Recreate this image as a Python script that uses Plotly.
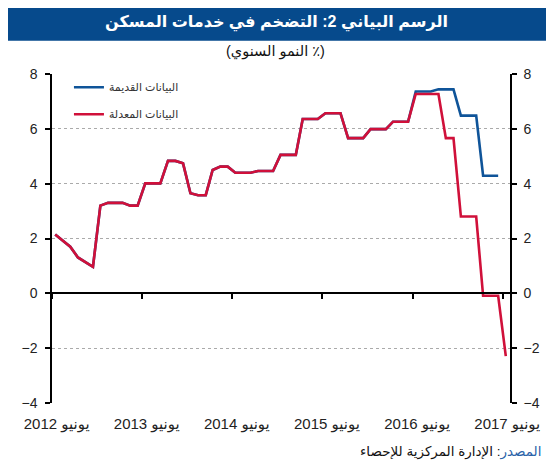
import pandas as pd
import plotly.graph_objects as go

# monthly data, June 2012 - June 2017 (annual % growth)
months = pd.date_range("2012-06-01", periods=61, freq="MS") + pd.Timedelta(days=13)

# June 2012 - May 2016: both series are the same
common = [2.15, 1.93, 1.70, 1.31, 1.14, 0.97,
          3.20, 3.30, 3.30, 3.30, 3.20, 3.20,
          4.01, 4.01, 4.01, 4.83, 4.83, 4.74,
          3.65, 3.58, 3.58, 4.50, 4.62, 4.62,
          4.40, 4.40, 4.40, 4.46, 4.46, 4.46,
          5.05, 5.05, 5.05, 6.36, 6.36, 6.36,
          6.57, 6.57, 6.57, 5.66, 5.66, 5.66,
          5.99, 5.99, 5.99, 6.26, 6.26, 6.26]
# June 2016 onwards
old_tail = [7.36, 7.36, 7.36, 7.44, 7.44, 7.44,
            6.48, 6.48, 6.48, 4.29, 4.29, 4.29]
revised_tail = [7.27, 7.27, 7.27, 7.27, 5.66, 5.66,
                2.80, 2.80, 2.80, -0.09, -0.09, -0.09, -2.29]

old_data = common + old_tail
revised_data = common + revised_tail

tick_years = [2012, 2013, 2014, 2015, 2016, 2017]
tick_vals = [f"{y}-06-01" for y in tick_years]
label_vals = [f"{y}-06-20" for y in tick_years]  # labels sit a little right of the ticks
tick_text = [f"{y} يونيو" for y in tick_years]

title_text = "الرسم البياني 2: التضخم في خدمات المسكن"
subtitle_text = "(النمو السنوي ٪)"
old_name = "البيانات القديمة"
revised_name = "البيانات المعدلة"

FONT = "Liberation Sans, Arial, DejaVu Sans, sans-serif"
BLUE = "#0f5499"
RED = "#d0103a"
x_range = ["2012-06-01", "2017-07-01"]

fig = go.Figure()
fig.add_trace(go.Scatter(x=months[:len(old_data)], y=old_data, name=old_name,
                         mode="lines", line=dict(color=BLUE, width=2.6),
                         xaxis="x", yaxis="y", legendgroup="a"))
fig.add_trace(go.Scatter(x=months[:len(revised_data)], y=revised_data, name=revised_name,
                         mode="lines", line=dict(color=RED, width=2.6),
                         xaxis="x2", yaxis="y2", legendgroup="b"))

# the page body adds 8px around the figure, so the canvas is 8px smaller
fig.update_layout(
    width=546, height=456,
    margin=dict(l=44, r=43.5, t=66, b=61, autoexpand=False),
    paper_bgcolor="white", plot_bgcolor="white",
    font=dict(family=FONT, size=14, color="#222"),
    showlegend=True,
    legend=dict(x=0.037, y=1.004, xanchor="left", yanchor="top",
                bgcolor="rgba(0,0,0,0)", font=dict(size=11, color="#333"),
                tracegroupgap=8, itemwidth=30),
    xaxis=dict(type="date", range=x_range, tickvals=label_vals, ticktext=tick_text,
               showgrid=False, showline=False, zeroline=False, automargin=False,
               ticks="", ticklabelstandoff=10, tickfont=dict(size=15)),
    xaxis2=dict(type="date", range=x_range, tickvals=tick_vals, overlaying="x",
                anchor="free", position=1 / 3, showticklabels=False,
                showgrid=False, showline=True, linecolor="black", linewidth=1.5,
                ticks="outside", ticklen=5, tickcolor="black", tickwidth=1.5),
    yaxis=dict(range=[-4, 8], dtick=2, showgrid=True, gridcolor="#aaaaaa",
               griddash="dot", gridwidth=1, zeroline=False, automargin=False,
               showline=True, linecolor="black", linewidth=1.5, ticklabelstandoff=5,
               ticks="outside", ticklen=5, tickcolor="black", tickwidth=1.5),
    yaxis2=dict(range=[-4, 8], dtick=2, overlaying="y", side="right", anchor="x",
                showgrid=False, zeroline=False, automargin=False,
                showline=True, linecolor="black", linewidth=1.5, ticklabelstandoff=4,
                ticks="outside", ticklen=5, tickcolor="black", tickwidth=1.5),
)

# title bar
fig.add_shape(type="rect", xref="paper", yref="paper",
              x0=-0.1, x1=1.1, y0=1.1012, y1=1.25,
              fillcolor="#064a8c", line_width=0, layer="above")
fig.add_annotation(text=f"<b>{title_text}</b>", xref="paper", yref="paper",
                   x=0.491, y=1.157, yanchor="middle", showarrow=False,
                   font=dict(size=16, color="white"))
fig.add_annotation(text=subtitle_text, xref="paper", yref="paper",
                   x=0.487, y=1.067, yanchor="middle", showarrow=False,
                   font=dict(size=14.5, color="#111"))
fig.add_annotation(text='<span style="color:#2a62a8">المصدر</span>: الإدارة المركزية للإحصاء',
                   xref="paper", yref="paper", x=1.072, y=-0.149,
                   xanchor="right", yanchor="middle", showarrow=False,
                   font=dict(size=13.5, color="#111"))

fig.write_html("out.html")
